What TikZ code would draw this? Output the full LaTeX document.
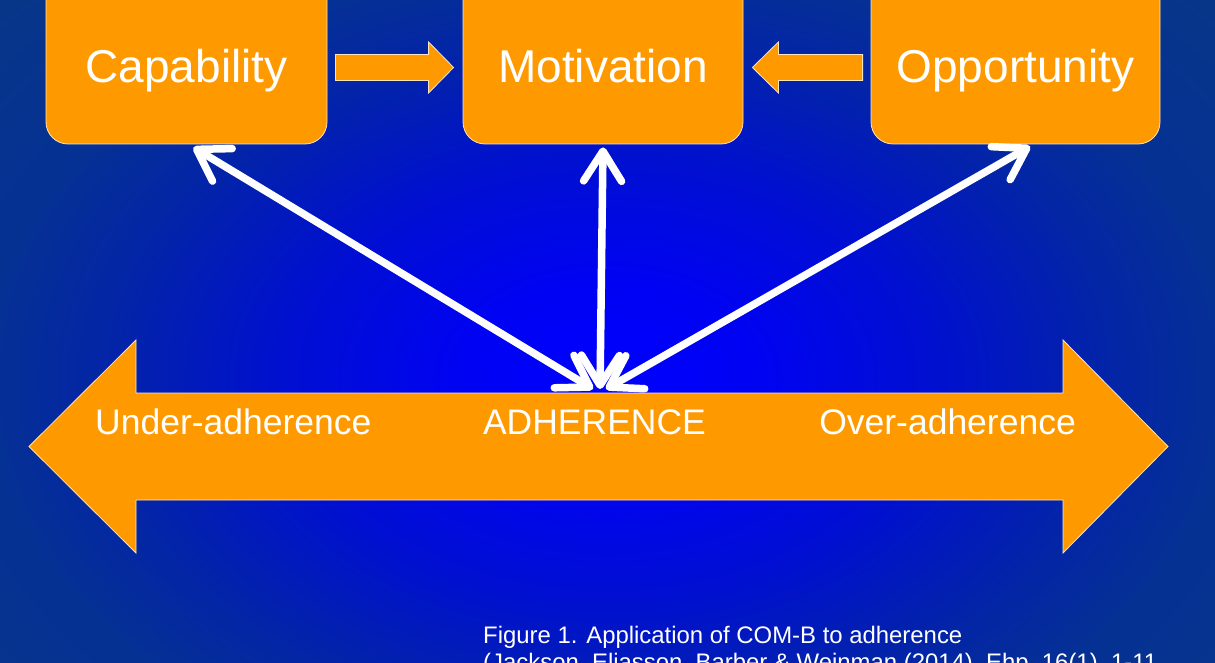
\documentclass[tikz,border=0pt]{standalone}
\usepackage{fontspec}
\setmainfont{Liberation Sans}
\usetikzlibrary{arrows.meta,calc}
\definecolor{orng}{RGB}{255,153,0}
\definecolor{edgec}{RGB}{255,228,185}
\pgfdeclareradialshading{bgshade}{\pgfpoint{0bp}{0bp}}{rgb(0bp)=(0,0,1); rgb(6bp)=(0,0.01,0.95); rgb(13bp)=(0,0.06,0.82); rgb(20bp)=(0.01,0.14,0.66); rgb(25bp)=(0.02,0.19,0.58); rgb(36bp)=(0.03,0.22,0.52); rgb(50bp)=(0.03,0.22,0.52)}
\begin{document}
\begin{tikzpicture}[x=1pt,y=-1pt,
  box/.style={draw=edgec, line width=0.8pt, fill=orng, rounded corners=22pt,
    minimum height=174pt, inner sep=0pt, text=white,
    font=\fontsize{46}{50}\selectfont, text height=52pt, text depth=0pt},
  blk/.style={draw=edgec, line width=0.8pt, fill=orng},
  lbl/.style={text=white, font=\fontsize{35.5}{40}\selectfont, inner sep=0pt},
  capt/.style={text=white, font=\fontsize{23.9}{27}\selectfont, inner sep=0pt, anchor=base west},
  wa/.style={draw=white, line width=7.5pt, line cap=round,
    {Straight Barb[length=30pt,width=38pt,round]}-{Straight Barb[length=30pt,width=38pt,round]}},
]
\useasboundingbox (0,0) rectangle (1215,663);
\clip (0,0) rectangle (1215,663);
\shade[shading=bgshade] (-10,-40) rectangle (1225,800);

% boxes
\node[box, minimum width=281pt] (cap) at (186.5,57) {Capability};
\node[box, minimum width=280pt] (mot) at (603,57) {Motivation};
\node[box, minimum width=289pt] (opp) at (1015.5,57) {Opportunity};

% block arrows between boxes
\coordinate (a1s) at ($(cap.east)+(8,10.5)$);
\coordinate (a1e) at ($(mot.west)+(-9,10.5)$);
\draw[blk] ($(a1s)+(0,-13)$) -- ($(a1e)+(-25,-13)$) -- ($(a1e)+(-25,-25.5)$) -- (a1e)
  -- ($(a1e)+(-25,25.5)$) -- ($(a1e)+(-25,13)$) -- ($(a1s)+(0,13)$) -- cycle;
\coordinate (a2s) at ($(opp.west)+(-8,10.5)$);
\coordinate (a2e) at ($(mot.east)+(9,10.5)$);
\draw[blk] ($(a2s)+(0,-13)$) -- ($(a2e)+(26,-13)$) -- ($(a2e)+(26,-25.5)$) -- (a2e)
  -- ($(a2e)+(26,25.5)$) -- ($(a2e)+(26,13)$) -- ($(a2s)+(0,13)$) -- cycle;

% big double arrow
\draw[blk] (29,446.5) -- (136,340) -- (136,393) -- (1063,393) -- (1063,340) -- (1168,446.5)
  -- (1063,553) -- (1063,500) -- (136,500) -- (136,553) -- cycle;
\node[lbl, anchor=base west] (under) at (95,434) {Under-adherence};
\node[lbl, anchor=base] (adh) at (594.5,434) {ADHERENCE};
\node[lbl, anchor=base east] (over) at (1076,434) {Over-adherence};

% white arrows
\coordinate (hubL) at (593,389);
\coordinate (hubM) at (600,389);
\coordinate (hubR) at (606,389);
\coordinate (capEnd) at ($(cap.south)+(7,3)$);
\coordinate (motEnd) at ($(mot.south)+(0,3)$);
\coordinate (oppEnd) at ($(opp.south)+(14.5,2)$);
\draw[wa] (hubL) -- (capEnd);
\draw[wa] (hubM) -- (motEnd);
\draw[wa] (hubR) -- (oppEnd);

% caption
\node[capt] (c1) at (483,643) {Figure 1. Application of COM-B to adherence};
\node[capt] (c2) at (483,670) {(Jackson, Eliasson, Barber \& Weinman (2014), Ehp, 16(1), 1-11};
\end{tikzpicture}
\end{document}
